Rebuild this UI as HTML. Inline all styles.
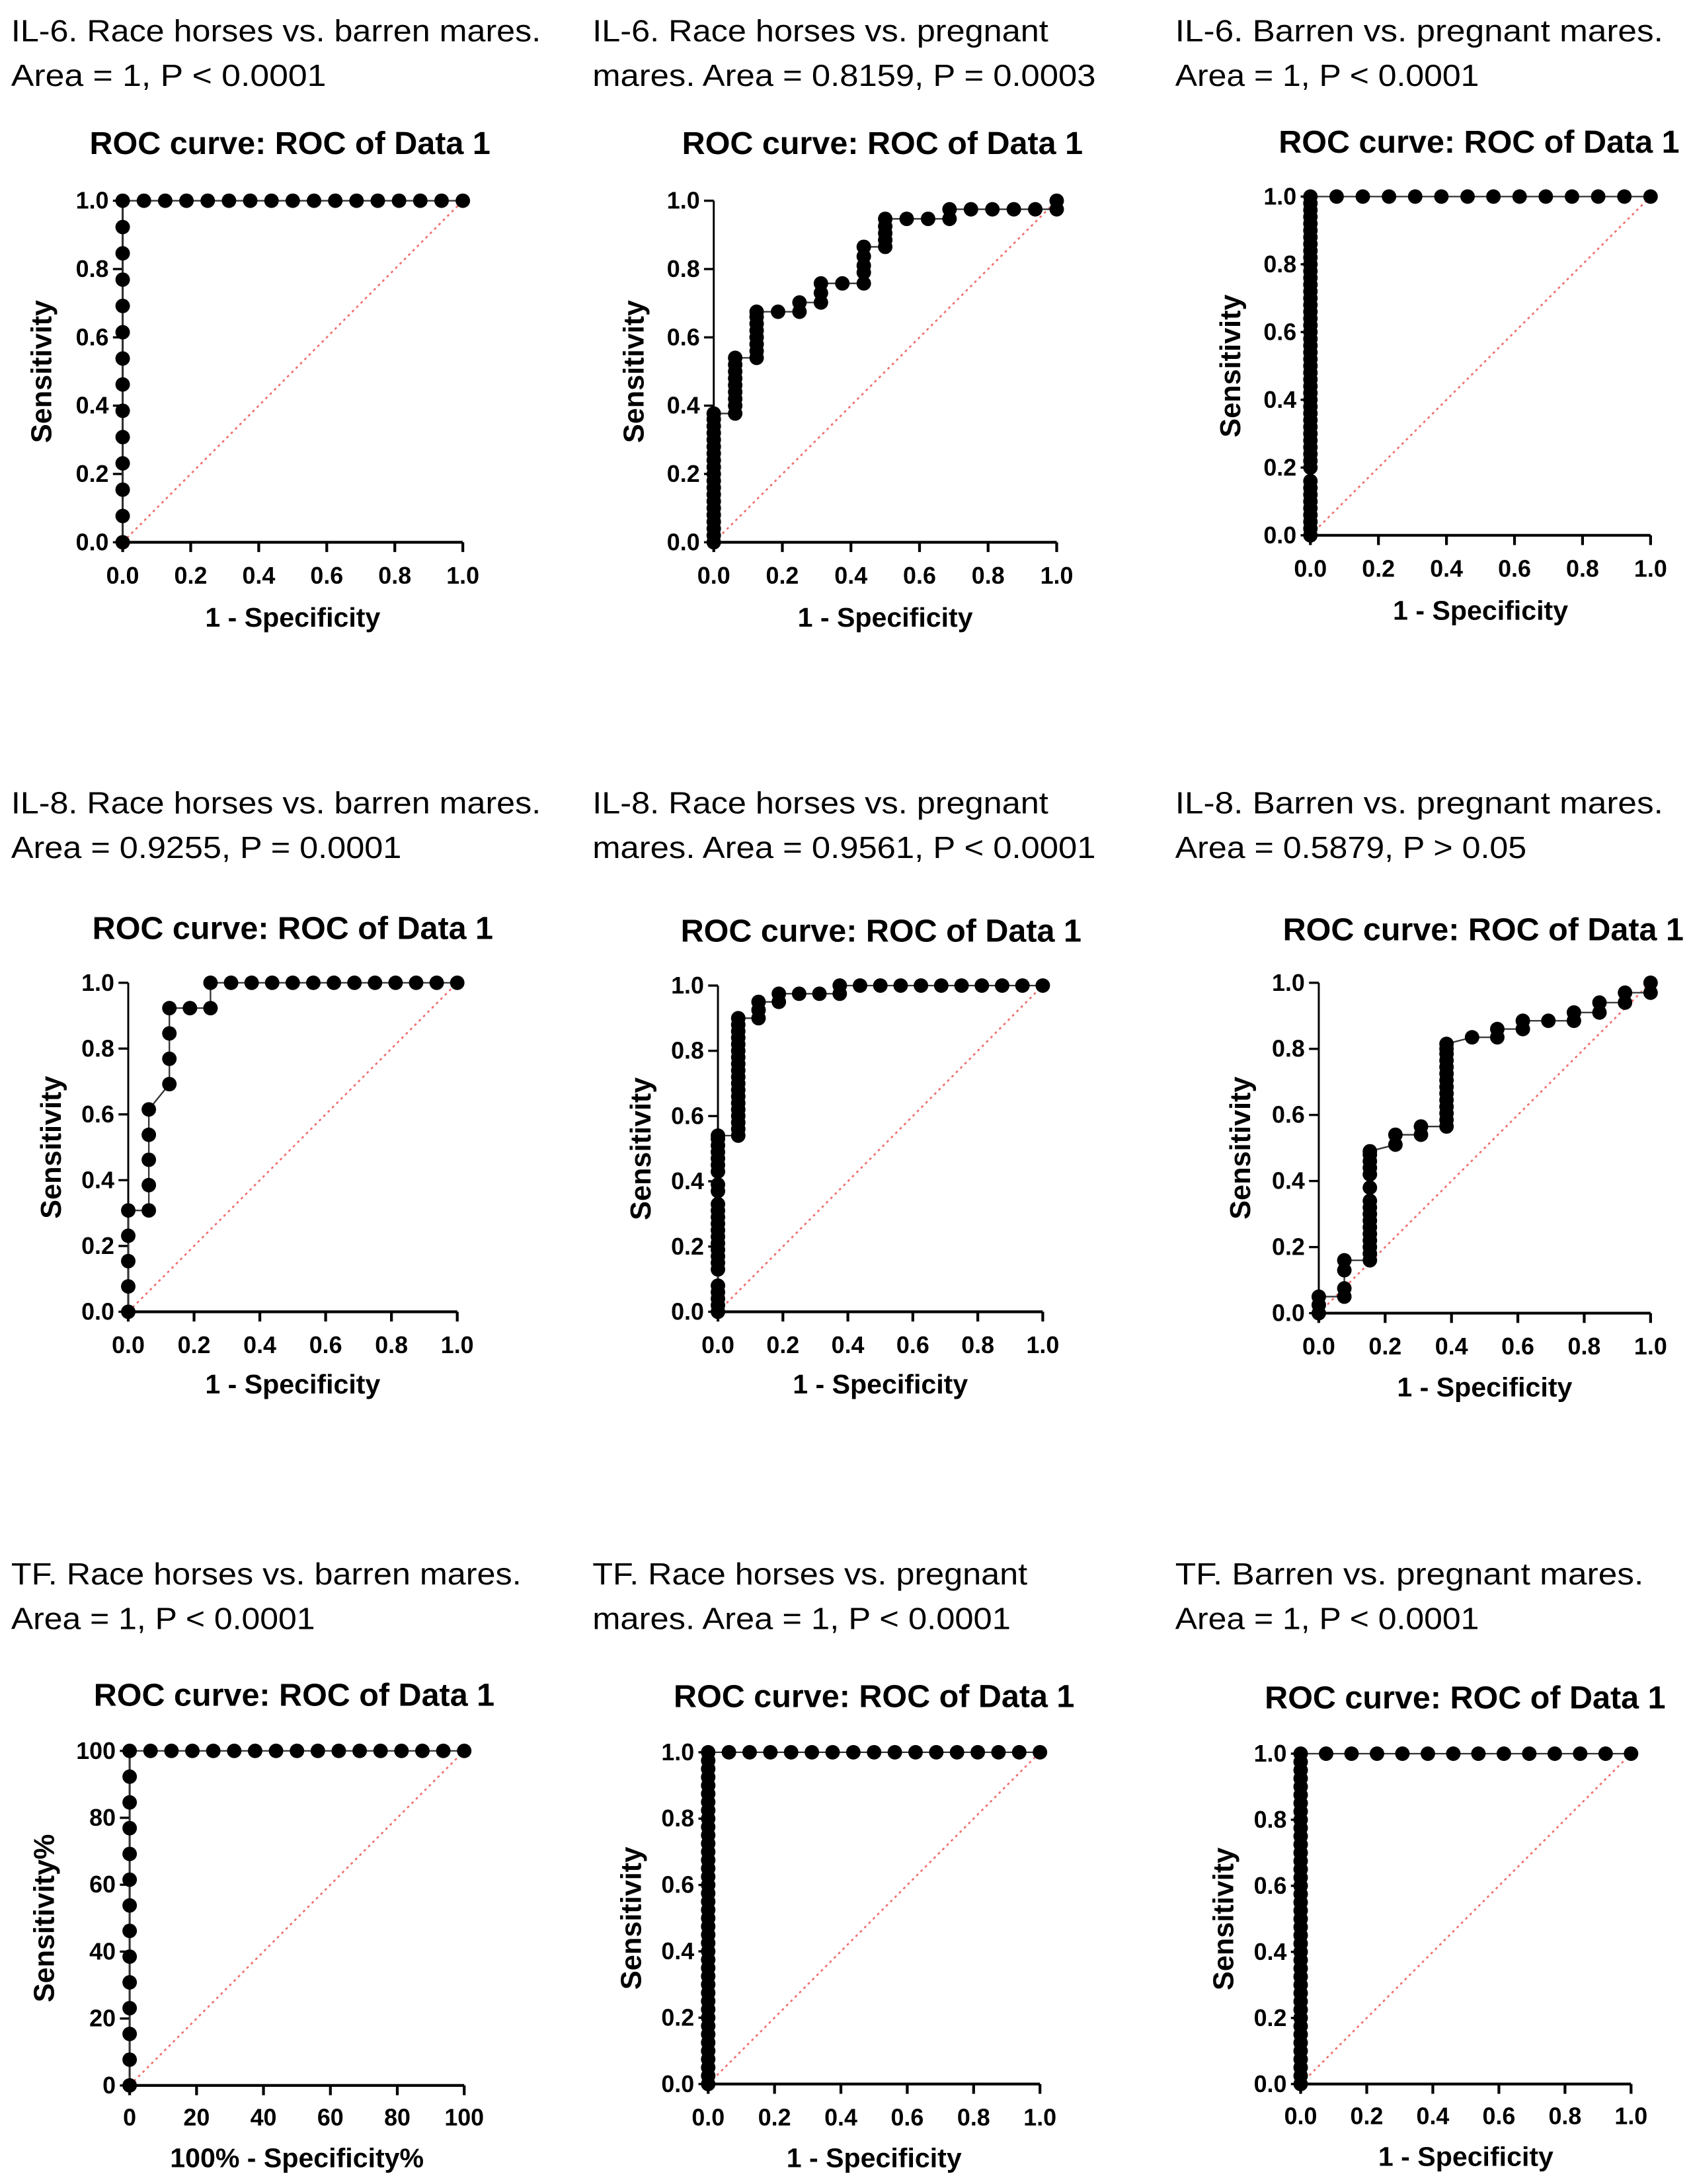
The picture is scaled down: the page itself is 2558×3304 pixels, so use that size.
<!DOCTYPE html>
<html><head><meta charset="utf-8"><style>
html,body{margin:0;padding:0;background:#fff}
svg{display:block}
text{font-family:"Liberation Sans",sans-serif;fill:#000}
</style></head><body>
<svg id="fig" xmlns="http://www.w3.org/2000/svg" width="2558" height="3304" viewBox="0 0 1213 1566.7" preserveAspectRatio="none"></svg>
<script>
// ---- data (1 - specificity, sensitivity) per panel ----
const fprA=[0,0,0,0,0,0,0,0,0,0,0,0,0,0,0.0625,0.125,0.1875,0.25,0.3125,0.375,0.4375,0.5,0.5625,0.625,0.6875,0.75,0.8125,0.875,0.9375,1];
const tprA=[0,0.077,0.154,0.231,0.308,0.385,0.462,0.538,0.615,0.692,0.769,0.846,0.923,1,1,1,1,1,1,1,1,1,1,1,1,1,1,1,1,1];
const fprB=[0,0,0,0,0,0,0,0,0,0,0,0,0,0,0,0,0,0,0,0,0.0625,0.0625,0.0625,0.0625,0.0625,0.0625,0.0625,0.0625,0.0625,0.125,0.125,0.125,0.125,0.125,0.125,0.125,0.125,0.1875,0.25,0.25,0.3125,0.3125,0.3125,0.375,0.4375,0.4375,0.4375,0.4375,0.4375,0.5,0.5,0.5,0.5,0.5,0.5625,0.625,0.6875,0.6875,0.75,0.8125,0.875,0.9375,1,1];
const tprB=[0,0.02,0.04,0.06,0.08,0.1,0.12,0.14,0.16,0.18,0.2,0.22,0.24,0.26,0.28,0.3,0.32,0.34,0.36,0.377,0.377,0.4,0.42,0.44,0.46,0.48,0.5,0.52,0.54,0.54,0.56,0.58,0.6,0.62,0.64,0.66,0.675,0.675,0.675,0.702,0.702,0.73,0.758,0.758,0.758,0.79,0.81,0.837,0.865,0.865,0.885,0.905,0.925,0.947,0.947,0.947,0.947,0.975,0.975,0.975,0.975,0.975,0.975,1];
const fprC=[0,0,0,0,0,0,0,0,0,0,0,0,0,0,0,0,0,0,0,0,0,0,0,0,0,0,0,0,0,0,0,0,0,0,0,0,0,0,0,0,0,0,0,0,0,0,0,0,0,0,0.077,0.154,0.231,0.308,0.385,0.462,0.538,0.615,0.692,0.769,0.846,0.923,1];
const tprC=[0,0.02,0.04,0.06,0.08,0.1,0.12,0.14,0.16,0.2,0.22,0.24,0.26,0.28,0.3,0.32,0.34,0.36,0.38,0.4,0.42,0.44,0.46,0.48,0.5,0.52,0.54,0.56,0.58,0.6,0.62,0.64,0.66,0.68,0.7,0.72,0.74,0.76,0.78,0.8,0.82,0.84,0.86,0.88,0.9,0.92,0.94,0.96,0.98,1,1,1,1,1,1,1,1,1,1,1,1,1,1];
const fprD=[0,0,0,0,0,0.0625,0.0625,0.0625,0.0625,0.0625,0.125,0.125,0.125,0.125,0.1875,0.25,0.25,0.3125,0.375,0.4375,0.5,0.5625,0.625,0.6875,0.75,0.8125,0.875,0.9375,1];
const tprD=[0,0.077,0.154,0.231,0.308,0.308,0.385,0.462,0.538,0.615,0.692,0.769,0.846,0.923,0.923,0.923,1,1,1,1,1,1,1,1,1,1,1,1,1];
const fprE=[0,0,0,0,0,0,0,0,0,0,0,0,0,0,0,0,0,0,0,0,0,0,0,0,0,0.0625,0.0625,0.0625,0.0625,0.0625,0.0625,0.0625,0.0625,0.0625,0.0625,0.0625,0.0625,0.0625,0.0625,0.0625,0.0625,0.0625,0.0625,0.0625,0.125,0.125,0.125,0.1875,0.1875,0.25,0.3125,0.375,0.375,0.4375,0.5,0.5625,0.625,0.6875,0.75,0.8125,0.875,0.9375,1];
const tprE=[0,0.02,0.04,0.06,0.08,0.13,0.15,0.17,0.19,0.21,0.23,0.25,0.27,0.29,0.31,0.33,0.37,0.39,0.43,0.45,0.47,0.49,0.51,0.53,0.54,0.54,0.56,0.58,0.6,0.62,0.64,0.66,0.68,0.7,0.72,0.74,0.76,0.78,0.8,0.82,0.84,0.86,0.88,0.9,0.9,0.925,0.95,0.95,0.975,0.975,0.975,0.975,1,1,1,1,1,1,1,1,1,1,1];
const fprF=[0,0,0,0.077,0.077,0.077,0.077,0.154,0.154,0.154,0.154,0.154,0.154,0.154,0.154,0.154,0.154,0.154,0.154,0.154,0.154,0.154,0.154,0.231,0.231,0.308,0.308,0.385,0.385,0.385,0.385,0.385,0.385,0.385,0.385,0.385,0.385,0.385,0.385,0.385,0.385,0.462,0.538,0.538,0.615,0.615,0.692,0.769,0.769,0.846,0.846,0.923,0.923,1,1];
const tprF=[0,0.025,0.05,0.05,0.075,0.13,0.16,0.16,0.18,0.2,0.22,0.24,0.26,0.28,0.3,0.32,0.34,0.38,0.42,0.44,0.46,0.48,0.49,0.51,0.54,0.54,0.565,0.565,0.585,0.605,0.625,0.645,0.665,0.685,0.705,0.725,0.745,0.765,0.785,0.8,0.815,0.835,0.835,0.86,0.86,0.885,0.885,0.885,0.91,0.91,0.94,0.94,0.97,0.97,1];
const fprG=[0,0,0,0,0,0,0,0,0,0,0,0,0,0,6.25,12.5,18.75,25,31.25,37.5,43.75,50,56.25,62.5,68.75,75,81.25,87.5,93.75,100];
const tprG=[0,7.7,15.4,23.1,30.8,38.5,46.2,53.8,61.5,69.2,76.9,84.6,92.3,100,100,100,100,100,100,100,100,100,100,100,100,100,100,100,100,100];
const fprH=[0,0,0,0,0,0,0,0,0,0,0,0,0,0,0,0,0,0,0,0,0,0,0,0,0,0,0,0,0,0,0,0,0,0,0,0,0,0,0,0,0,0.0625,0.125,0.1875,0.25,0.3125,0.375,0.4375,0.5,0.5625,0.625,0.6875,0.75,0.8125,0.875,0.9375,1];
const tprH=[0,0.025,0.05,0.075,0.1,0.125,0.15,0.175,0.2,0.225,0.25,0.275,0.3,0.325,0.35,0.375,0.4,0.425,0.45,0.475,0.5,0.525,0.55,0.575,0.6,0.625,0.65,0.675,0.7,0.725,0.75,0.775,0.8,0.825,0.85,0.875,0.9,0.925,0.95,0.975,1,1,1,1,1,1,1,1,1,1,1,1,1,1,1,1,1];
const fprI=[0,0,0,0,0,0,0,0,0,0,0,0,0,0,0,0,0,0,0,0,0,0,0,0,0,0,0,0,0,0,0,0,0,0,0,0,0,0,0,0,0,0.077,0.154,0.231,0.308,0.385,0.462,0.538,0.615,0.692,0.769,0.846,0.923,1];
const tprI=[0,0.025,0.05,0.075,0.1,0.125,0.15,0.175,0.2,0.225,0.25,0.275,0.3,0.325,0.35,0.375,0.4,0.425,0.45,0.475,0.5,0.525,0.55,0.575,0.6,0.625,0.65,0.675,0.7,0.725,0.75,0.775,0.8,0.825,0.85,0.875,0.9,0.925,0.95,0.975,1,1,1,1,1,1,1,1,1,1,1,1,1,1];
const ticks01=["0.0","0.2","0.4","0.6","0.8","1.0"];
const ticks100=["0","20","40","60","80","100"];
const headings=[
 ["IL-6. Race horses vs. barren mares.","Area = 1, P < 0.0001"],
 ["IL-6. Race horses vs. pregnant","mares. Area = 0.8159, P = 0.0003"],
 ["IL-6. Barren vs. pregnant mares.","Area = 1, P < 0.0001"],
 ["IL-8. Race horses vs. barren mares.","Area = 0.9255, P = 0.0001"],
 ["IL-8. Race horses vs. pregnant","mares. Area = 0.9561, P < 0.0001"],
 ["IL-8. Barren vs. pregnant mares.","Area = 0.5879, P > 0.05"],
 ["TF. Race horses vs. barren mares.","Area = 1, P < 0.0001"],
 ["TF. Race horses vs. pregnant","mares. Area = 1, P < 0.0001"],
 ["TF. Barren vs. pregnant mares.","Area = 1, P < 0.0001"]];
const headW=[[380,226],[327,361],[350,218],[380,280],[327,361],[350,252],[366,218],[312,300],[336,218]];

// ---- layout ----
const panels=[
 {fx:fprA,ty:tprA,max:1,x0:88,x1:332,yt:144,yb:389,tx:208,tyy:103,tk:413,xt:443,yx:30,hx:8,hy:22},
 {fx:fprB,ty:tprB,max:1,x0:512,x1:758,yt:144,yb:389,tx:633,tyy:103,tk:413,xt:443,yx:455,hx:425,hy:22},
 {fx:fprC,ty:tprC,max:1,x0:940,x1:1184,yt:141,yb:384,tx:1061,tyy:102,tk:408,xt:438,yx:883,hx:843,hy:22},
 {fx:fprD,ty:tprD,max:1,x0:92,x1:328,yt:705,yb:941,tx:210,tyy:666,tk:965,xt:993,yx:37,hx:8,hy:576},
 {fx:fprE,ty:tprE,max:1,x0:515,x1:748,yt:707,yb:941,tx:632,tyy:668,tk:965,xt:993,yx:460,hx:425,hy:576},
 {fx:fprF,ty:tprF,max:1,x0:946,x1:1184,yt:705,yb:942,tx:1064,tyy:667,tk:966,xt:995,yx:890,hx:843,hy:576},
 {fx:fprG,ty:tprG,max:100,x0:93,x1:333,yt:1256,yb:1496,tx:211,tyy:1216,tk:1519,xt:1548,yx:32,hx:8,hy:1129,pct:true},
 {fx:fprH,ty:tprH,max:1,x0:508,x1:746,yt:1257,yb:1495,tx:627,tyy:1217,tk:1519,xt:1548,yx:453,hx:425,hy:1129},
 {fx:fprI,ty:tprI,max:1,x0:933,x1:1170,yt:1258,yb:1495,tx:1051,tyy:1218,tk:1518,xt:1547,yx:878,hx:843,hy:1129}];

const NS="http://www.w3.org/2000/svg";
const svg=document.getElementById('fig');
function mk(tag,attrs,parent){const e=document.createElementNS(NS,tag);for(const k in attrs)e.setAttribute(k,attrs[k]);parent.appendChild(e);return e;}

panels.forEach((p,i)=>{
 const g=mk('g',{},svg);
 
 
 const sx=v=>p.x0+(p.x1-p.x0)*v/p.max;
 const sy=v=>p.yb-(p.yb-p.yt)*v/p.max;
 headings[i].forEach((t,j)=>{
  const tx=mk('text',{x:p.hx,y:p.hy+j*32,'font-size':22,'dominant-baseline':'central',textLength:headW[i][j],lengthAdjust:'spacingAndGlyphs'},g);
  tx.textContent=t;
  
  
 });
 const ct=mk('text',{x:p.tx,y:p.tyy,'font-size':23,'font-weight':'bold','text-anchor':'middle','dominant-baseline':'central'},g);
 ct.textContent='ROC curve: ROC of Data 1';
 
 
 const dg=mk('line',{x1:sx(0),y1:sy(0),x2:sx(p.max),y2:sy(p.max),stroke:'#f07070','stroke-width':1.3,'stroke-dasharray':'1.8 2.6'},g);
 
 
 const ya=mk('line',{x1:p.x0,y1:p.yb,x2:p.x0,y2:p.yt,stroke:'#000','stroke-width':1.4},g);
 
 
 const xa=mk('line',{x1:p.x0,y1:p.yb,x2:p.x1,y2:p.yb,stroke:'#000','stroke-width':2},g);
 
 
 const lab=p.pct?ticks100:ticks01;
 lab.forEach((t,k)=>{
  const v=p.max*k/5;
  mk('line',{x1:p.x0-7,y1:sy(v),x2:p.x0,y2:sy(v),stroke:'#000','stroke-width':1.6},g);
  mk('line',{x1:sx(v),y1:p.yb,x2:sx(v),y2:p.yb+7,stroke:'#000','stroke-width':2},g);
  const yl=mk('text',{x:p.x0-10,y:sy(v),'font-size':17,'font-weight':'bold','text-anchor':'end','dominant-baseline':'central'},g);
  yl.textContent=t;
  
  
  const xl=mk('text',{x:sx(v),y:p.tk,'font-size':17,'font-weight':'bold','text-anchor':'middle','dominant-baseline':'central'},g);
  xl.textContent=t;
  
  
 });
 const xt=mk('text',{x:(p.x0+p.x1)/2,y:p.xt,'font-size':19.5,'font-weight':'bold','text-anchor':'middle','dominant-baseline':'central'},g);
 xt.textContent=p.pct?'100% - Specificity%':'1 - Specificity';
 
 
 const yc=(p.yt+p.yb)/2;
 const yt=mk('text',{x:p.yx,y:yc,'font-size':20.5,'font-weight':'bold','text-anchor':'middle','dominant-baseline':'central',transform:'rotate(-90 '+p.yx+' '+yc+')'},g);
 yt.textContent=p.pct?'Sensitivity%':'Sensitivity';
 
 
 const pts=p.fx.map((v,k)=>sx(v)+','+sy(p.ty[k])).join(' ');
 const cl=mk('polyline',{points:pts,fill:'none',stroke:'#333','stroke-width':1.1},g);
 
 
 p.fx.forEach((v,k)=>{
  const c=mk('circle',{cx:sx(v),cy:sy(p.ty[k]),r:5.2,fill:'#000'},g);
  
  
 });
});
</script>
</body></html>
